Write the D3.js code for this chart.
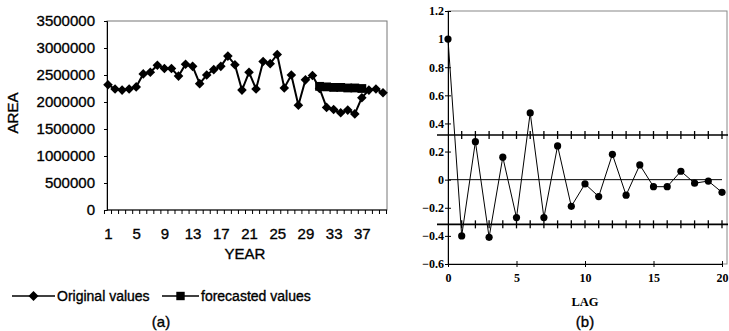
<!DOCTYPE html>
<html>
<head>
<meta charset="utf-8">
<script src="https://cdn.jsdelivr.net/npm/d3@7"></script>
<style>
  body { margin: 0; background: #fff; }
  svg { display: block; }
</style>
</head>
<body>
<svg id="chart" width="729" height="331"></svg>
<script>
// ---- Panel (a): cultivated area by year, original and forecasted ----
const years = d3.range(1, 41);
const originalValues = [
  2320000, 2240000, 2220000, 2240000, 2280000, 2520000, 2550000, 2680000, 2620000, 2620000,
  2480000, 2700000, 2660000, 2340000, 2500000, 2600000, 2660000, 2850000, 2690000, 2220000,
  2550000, 2240000, 2750000, 2710000, 2880000, 2260000, 2500000, 1940000, 2410000, 2490000,
  2250000, 1900000, 1860000, 1800000, 1850000, 1780000, 2080000, 2220000, 2240000, 2170000
];
const forecastYears = [31, 32, 33, 34, 35, 36, 37];
const forecastValues = [2290000, 2280000, 2270000, 2270000, 2260000, 2260000, 2250000];
const areaTicks = [0, 500000, 1000000, 1500000, 2000000, 2500000, 3000000, 3500000];
const yearTickLabels = [1, 5, 9, 13, 17, 21, 25, 29, 33, 37];
const legendNames = ["Original values", "forecasted values"];

// ---- Panel (b): autocorrelation function by lag ----
const lags = d3.range(0, 21);
const acfValues = [
  1.0, -0.40, 0.27, -0.41, 0.16, -0.27, 0.475, -0.27, 0.24, -0.19,
  -0.03, -0.12, 0.18, -0.11, 0.105, -0.05, -0.05, 0.06, -0.025, -0.01, -0.09
];
const confidenceLimit = 0.318;
const acfTicks = [-0.6, -0.4, -0.2, 0, 0.2, 0.4, 0.6, 0.8, 1, 1.2];
const lagTickLabels = [0, 5, 10, 15, 20];

const svg = d3.select("#chart");
const sans = "'Liberation Sans', Arial, sans-serif";
const serif = "'Liberation Serif', 'Times New Roman', serif";

const diamond = r => `M0,${-r}L${r},0L0,${r}L${-r},0Z`;
const square = r => `M${-r},${-r}H${r}V${r}H${-r}Z`;

// sans labels: regular face with a slightly heavier outline
const sansText = (sel, size = 15) => sel
  .attr("font-family", sans).attr("font-size", size).attr("fill", "#000")
  .attr("stroke", "#000").attr("stroke-width", 0.35);

// ===================== Panel (a) =====================
const xA = d3.scalePoint().domain(years).range([108, 383]);
const yA = d3.scaleLinear().domain([0, 3500000]).range([210, 21]);
const left = 107, right = 387;

const gA = svg.append("g");

// plot-area frame
gA.append("rect")
  .attr("x", left).attr("y", yA(3500000))
  .attr("width", right - left)
  .attr("height", yA(0) - yA(3500000))
  .attr("fill", "none").attr("stroke", "#777").attr("stroke-width", 1);

// value axis
const yAxisA = gA.append("g")
  .attr("transform", `translate(${left},0)`)
  .call(d3.axisLeft(yA).tickValues(areaTicks).tickSize(3).tickPadding(9)
    .tickFormat(d3.format("d")));
yAxisA.select(".domain").attr("stroke", "#000");
yAxisA.selectAll("text").call(sansText);

// category axis: labels every fourth year, tick marks between categories
const xAxisA = gA.append("g")
  .attr("transform", `translate(0,${yA(0)})`)
  .call(d3.axisBottom(xA).tickValues(yearTickLabels).tickSize(0).tickPadding(18));
xAxisA.select(".domain").attr("stroke", "#000").attr("d", `M${left},0H${right}`);
xAxisA.selectAll("text").call(sansText);
const half = xA.step() / 2;
const boundaries = years.map(d => xA(d) - half).concat([xA(years[years.length - 1]) + half]);
gA.append("g").selectAll("line").data(boundaries).join("line")
  .attr("x1", d => d).attr("x2", d => d)
  .attr("y1", yA(0)).attr("y2", yA(0) + 4)
  .attr("stroke", "#000").attr("stroke-width", 1);

// axis titles
gA.append("text")
  .attr("x", 245).attr("y", 259).attr("text-anchor", "middle")
  .call(sansText).text("YEAR");
gA.append("text")
  .attr("transform", "translate(18,113) rotate(-90)").attr("text-anchor", "middle")
  .call(sansText).text("AREA");

// original series
const lineA = d3.line().x((d, i) => xA(years[i])).y(d => yA(d));
gA.append("path").datum(originalValues)
  .attr("d", lineA).attr("fill", "none").attr("stroke", "#000").attr("stroke-width", 2);
gA.append("g").selectAll("path").data(originalValues).join("path")
  .attr("transform", (d, i) => `translate(${xA(years[i])},${yA(d)})`)
  .attr("d", diamond(4.8)).attr("fill", "#000");

// forecasted series
const lineF = d3.line().x((d, i) => xA(forecastYears[i])).y(d => yA(d));
gA.append("path").datum(forecastValues)
  .attr("d", lineF).attr("fill", "none").attr("stroke", "#000").attr("stroke-width", 2);
gA.append("g").selectAll("path").data(forecastValues).join("path")
  .attr("transform", (d, i) => `translate(${xA(forecastYears[i])},${yA(d)})`)
  .attr("d", square(4.4)).attr("fill", "#000");

// legend
const legendItems = [
  { name: legendNames[0], x0: 12, x1: 55, marker: diamond(5) },
  { name: legendNames[1], x0: 162, x1: 199, marker: square(4.2) }
];
const legY = 296;
const leg = gA.append("g").selectAll("g").data(legendItems).join("g");
leg.append("line")
  .attr("x1", d => d.x0).attr("x2", d => d.x1).attr("y1", legY).attr("y2", legY)
  .attr("stroke", "#000").attr("stroke-width", 1.5);
leg.append("path")
  .attr("transform", d => `translate(${(d.x0 + d.x1) / 2},${legY})`)
  .attr("d", d => d.marker).attr("fill", "#000");
leg.append("text")
  .attr("x", d => d.x1 + 2).attr("y", legY + 5)
  .call(sansText, 14).text(d => d.name);

gA.append("text")
  .attr("x", 161).attr("y", 327).attr("text-anchor", "middle")
  .call(sansText).text("(a)");

// ===================== Panel (b) =====================
const xB = d3.scaleLinear().domain([0, 20]).range([448, 722]);
const yB = d3.scaleLinear().domain([-0.6, 1.2]).range([264, 11]);
const gB = svg.append("g");

gB.append("rect")
  .attr("x", xB(0)).attr("y", yB(1.2))
  .attr("width", 727 - xB(0)).attr("height", yB(-0.6) - yB(1.2))
  .attr("fill", "none").attr("stroke", "#888").attr("stroke-width", 1);

// left axis with ticks crossing the line
const yAxisB = gB.append("g")
  .attr("transform", `translate(${xB(0)},0)`)
  .call(d3.axisLeft(yB).tickValues(acfTicks).tickSize(3).tickPadding(1)
    .tickFormat(d => d3.format("")(+d.toFixed(1))));
yAxisB.append("g").call(d3.axisRight(yB).tickValues(acfTicks).tickSize(3).tickFormat(""))
  .select(".domain").remove();
yAxisB.selectAll(".domain").attr("stroke", "#000");
yAxisB.selectAll("text")
  .attr("font-family", serif).attr("font-size", 12).attr("font-weight", "bold").attr("fill", "#000");

// bottom axis
const xAxisB = gB.append("g")
  .attr("transform", `translate(0,${yB(-0.6)})`)
  .call(d3.axisBottom(xB).tickValues(lagTickLabels).tickSize(3).tickPadding(6));
xAxisB.append("g").call(d3.axisTop(xB).tickValues(lagTickLabels).tickSize(3).tickFormat(""))
  .select(".domain").remove();
xAxisB.selectAll(".domain").attr("stroke", "#000");
xAxisB.selectAll("text")
  .attr("font-family", serif).attr("font-size", 12).attr("font-weight", "bold").attr("fill", "#000");

// zero reference line
gB.append("line")
  .attr("x1", xB(0)).attr("x2", xB(20)).attr("y1", yB(0)).attr("y2", yB(0))
  .attr("stroke", "#000").attr("stroke-width", 1);

// confidence limits with a tick at every lag
[confidenceLimit, -confidenceLimit].forEach(c => {
  gB.append("line")
    .attr("x1", 437).attr("x2", 728).attr("y1", yB(c)).attr("y2", yB(c))
    .attr("stroke", "#000").attr("stroke-width", 1.6);
  gB.append("g").selectAll("line").data(lags.slice(1)).join("line")
    .attr("x1", d => xB(d)).attr("x2", d => xB(d))
    .attr("y1", yB(c) - 4).attr("y2", yB(c) + 4)
    .attr("stroke", "#000").attr("stroke-width", 1.3);
});

// autocorrelation series
const lineB = d3.line().x((d, i) => xB(lags[i])).y(d => yB(d));
gB.append("path").datum(acfValues)
  .attr("d", lineB).attr("fill", "none").attr("stroke", "#000").attr("stroke-width", 1);
gB.append("g").selectAll("circle").data(acfValues).join("circle")
  .attr("cx", (d, i) => xB(lags[i])).attr("cy", d => yB(d))
  .attr("r", 3.6).attr("fill", "#000");

gB.append("text")
  .attr("x", 585).attr("y", 306).attr("text-anchor", "middle")
  .attr("font-family", serif).attr("font-size", 12.5).attr("font-weight", "bold")
  .text("LAG");
gB.append("text")
  .attr("x", 585).attr("y", 327).attr("text-anchor", "middle")
  .call(sansText).text("(b)");
</script>
</body>
</html>
